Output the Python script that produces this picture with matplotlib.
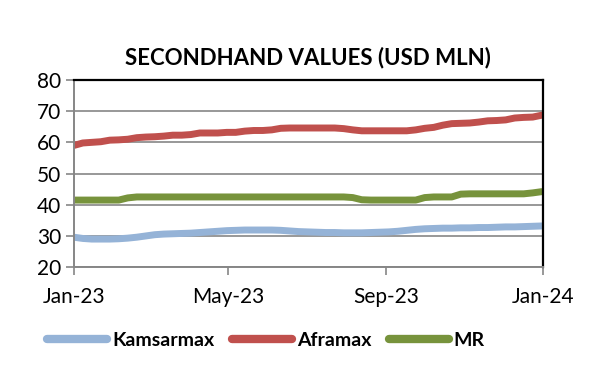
import matplotlib
matplotlib.use('Agg')
import matplotlib.pyplot as plt
import pandas as pd

# weekly observations, Jan-23 .. Jan-24
dates = pd.date_range('2023-01-01', periods=53, freq='7D')

kamsarmax = [29.6, 29.2, 29.0, 29.0, 29.0, 29.1, 29.3, 29.6, 30.0, 30.4,
             30.6, 30.7, 30.8, 30.9, 31.1, 31.3, 31.5, 31.7, 31.8, 31.9,
             31.9, 31.9, 31.9, 31.8, 31.6, 31.4, 31.3, 31.2, 31.1, 31.1,
             31.0, 31.0, 31.0, 31.1, 31.2, 31.3, 31.5, 31.8, 32.1, 32.3,
             32.4, 32.5, 32.5, 32.6, 32.6, 32.7, 32.7, 32.8, 32.9, 32.9,
             33.0, 33.1, 33.2]
aframax = [59.0, 59.8, 60.0, 60.2, 60.7, 60.8, 61.0, 61.5, 61.7, 61.8,
           62.0, 62.3, 62.3, 62.5, 63.0, 63.0, 63.0, 63.2, 63.2, 63.6,
           63.8, 63.8, 64.0, 64.5, 64.6, 64.6, 64.6, 64.6, 64.6, 64.6,
           64.4, 64.0, 63.7, 63.7, 63.7, 63.7, 63.7, 63.7, 64.0, 64.5,
           64.8, 65.5, 66.0, 66.1, 66.2, 66.5, 66.9, 67.0, 67.2, 67.8,
           68.0, 68.1, 68.7]
mr = [41.5, 41.5, 41.5, 41.5, 41.5, 41.5, 42.2, 42.5, 42.5, 42.5,
      42.5, 42.5, 42.5, 42.5, 42.5, 42.5, 42.5, 42.5, 42.5, 42.5,
      42.5, 42.5, 42.5, 42.5, 42.5, 42.5, 42.5, 42.5, 42.5, 42.5,
      42.5, 42.3, 41.6, 41.5, 41.5, 41.5, 41.5, 41.5, 41.5, 42.3,
      42.5, 42.5, 42.5, 43.4, 43.5, 43.5, 43.5, 43.5, 43.5, 43.5,
      43.5, 43.8, 44.2]

series = [('Kamsarmax', kamsarmax, '#95B3D7'),
          ('Aframax', aframax, '#C0504D'),
          ('MR', mr, '#77933C')]

x_ticks = pd.to_datetime(['2023-01-01', '2023-05-01', '2023-09-01', '2024-01-01'])
x_labels = ['Jan-23', 'May-23', 'Sep-23', 'Jan-24']
y_ticks = [20, 30, 40, 50, 60, 70, 80]

plt.rcParams['font.family'] = ['Lato', 'DejaVu Sans']
grey = '#868686'

fig = plt.figure(figsize=(6, 3.9), dpi=100)
ax = fig.add_axes([0.123, 0.315, 0.782, 0.48])

for name, vals, col in series:
    ax.plot(dates, vals, color=col, linewidth=5, label=name,
            solid_capstyle='round', solid_joinstyle='round')

ax.set_ylim(20, 80)
ax.set_xlim(x_ticks[0], x_ticks[-1])
ax.set_yticks(y_ticks)
ax.set_xticks(x_ticks)
ax.set_xticklabels(x_labels)
ax.yaxis.grid(True, color=grey, linewidth=1.2)
ax.set_axisbelow(True)

for side in ('top', 'right'):
    ax.spines[side].set_color('black')
    ax.spines[side].set_linewidth(1.6)
for side in ('left', 'bottom'):
    ax.spines[side].set_color(grey)
    ax.spines[side].set_linewidth(1.4)

ax.tick_params(axis='both', colors=grey, length=6, width=1.2, labelsize=15,
               labelcolor='black')
ax.tick_params(axis='x', pad=8)
ax.tick_params(axis='y', pad=3)

ax.set_title('SECONDHAND VALUES (USD MLN)', fontsize=16, fontweight='bold',
             pad=11)

leg = fig.legend(loc='center', bbox_to_anchor=(0.443, 0.128), ncol=3,
                 frameon=False, handlelength=3.1, handletextpad=0.25,
                 columnspacing=0.9, prop={'weight': 'bold', 'size': 14})
for line in leg.get_lines():
    line.set_linewidth(6)

fig.savefig('out.png', dpi=100)
